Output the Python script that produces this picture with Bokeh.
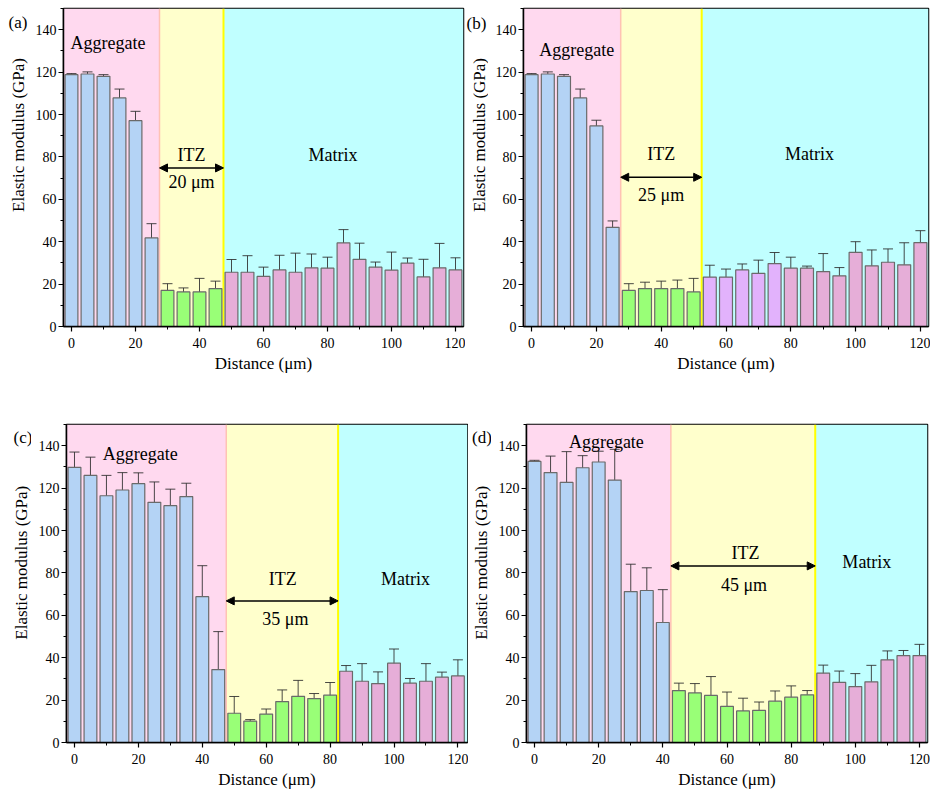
import math
from bokeh.plotting import figure
from bokeh.layouts import column, row
from bokeh.models import (Range1d, SingleIntervalTicker, BoxAnnotation, Span, Label,
                          Arrow, NormalHead, Whisker, TeeHead, ColumnDataSource)
from bokeh.core.properties import value
from bokeh.embed import file_html
from bokeh.resources import INLINE

FONT = "'Liberation Serif', 'DejaVu Serif', serif"

# ---------------- data ----------------
distance = list(range(0, 125, 5))

a_vals = [118.8, 119.1, 118.0, 107.8, 97.1, 41.8, 17.0, 16.3, 16.3, 17.9, 25.6, 25.6, 23.6,
          26.7, 25.6, 27.7, 27.5, 39.4, 31.7, 28.0, 26.6, 29.9, 23.4, 27.7, 26.7]
a_errs = [0.5, 1.0, 0.8, 4.2, 4.4, 6.7, 3.2, 1.9, 6.4, 3.5, 6.0, 7.8, 4.4,
          6.9, 9.0, 6.5, 5.2, 6.3, 7.6, 2.4, 8.5, 2.4, 8.3, 11.5, 5.7]

b_vals = [118.8, 119.1, 118.0, 107.8, 94.6, 46.8, 17.0, 17.9, 17.9, 17.9, 16.3, 23.3, 23.3,
          26.7, 25.1, 29.7, 27.5, 27.5, 25.9, 23.9, 35.0, 28.6, 30.3, 29.1, 39.6]
b_errs = [0.5, 1.0, 0.8, 4.2, 2.7, 3.0, 3.2, 3.0, 3.5, 4.0, 6.4, 5.6, 3.8,
          2.8, 6.2, 5.2, 5.2, 1.0, 8.5, 3.9, 5.0, 7.5, 6.3, 10.4, 5.6]

c_vals = [129.8, 126.0, 116.4, 119.1, 122.1, 113.3, 111.7, 116.0, 68.8, 34.4, 13.8, 10.1, 13.4,
          19.3, 21.8, 20.7, 22.3, 33.6, 28.9, 27.8, 37.4, 28.0, 28.9, 30.8, 31.4]
c_errs = [7.2, 8.6, 9.6, 8.2, 5.1, 9.6, 7.8, 6.3, 14.6, 17.9, 7.9, 0.7, 2.4,
          5.5, 7.5, 2.4, 6.0, 2.7, 8.3, 5.5, 6.7, 2.2, 8.3, 2.4, 7.6]

d_vals = [132.6, 127.3, 122.7, 129.6, 132.3, 123.8, 71.2, 71.7, 56.6, 24.5, 23.4, 22.2, 17.0,
          14.9, 15.2, 19.5, 21.4, 22.5, 32.7, 28.4, 26.4, 28.6, 39.0, 41.0, 41.0]
d_errs = [0.5, 7.8, 14.5, 5.7, 5.1, 14.5, 12.9, 10.7, 15.5, 3.5, 4.4, 8.9, 6.8,
          6.0, 3.9, 4.8, 5.3, 2.0, 3.8, 5.3, 6.1, 7.8, 4.2, 2.4, 5.3]

# zone edges (µm): aggregate/ITZ and ITZ/matrix
a_zone = [27.5, 47.5]
b_zone = [27.5, 52.5]
c_zone = [47.5, 82.5]
d_zone = [42.5, 87.5]

itz_width_labels = ["20 μm", "25 μm", "35 μm", "45 μm"]
panel_labels = ["(a)", "(b)", "(c)", "(d)"]
y_title = "Elastic modulus (GPa)"
x_title = "Distance (μm)"

# ---------------- style ----------------
C_AGG_BG = "#ffd9ef"
C_ITZ_BG = "#ffffcc"
C_MAT_BG = "#c0ffff"
C_AGG_BAR = "#b4d3f5"
C_ITZ_BAR = "#99ff77"
C_MAT_BAR = "#e6aed8"
C_LILAC = "#e2b2fc"


def bar_colors(zone, lilac_count=0):
    cols = []
    nm = 0
    for x in distance:
        if x < zone[0]:
            cols.append(C_AGG_BAR)
        elif x < zone[1]:
            cols.append(C_ITZ_BAR)
        else:
            cols.append(C_LILAC if nm < lilac_count else C_MAT_BAR)
            nm += 1
    return cols


def side_strip(width, height, tag, tag_x, tag_y, title_x, title_y):
    """Narrow strip left of a panel holding the panel tag and the y-axis title."""
    s = figure(width=width, height=height, output_backend="svg", toolbar_location=None,
               x_range=Range1d(0, width), y_range=Range1d(0, height),
               x_axis_type=None, y_axis_type=None, min_border=0,
               min_border_left=0, min_border_right=0, min_border_top=0, min_border_bottom=0,
               background_fill_color="white", border_fill_color="white")
    s.grid.visible = False
    s.outline_line_color = None
    s.text(x=[tag_x], y=[tag_y], text=[tag], text_font=value(FONT),
           text_font_size=value("17px"), text_align="left", text_baseline="middle",
           text_color="black")
    s.text(x=[title_x], y=[title_y], text=[y_title], text_font=value(FONT),
           text_font_size=value("17px"), text_align="center", text_baseline="middle",
           angle=math.pi / 2, text_color="black")
    return s


def make_panel(vals, errs, zone, wlabel, ann, width, height, borders, xend=122.5, lilac=0):
    bl, br, bt, bb = borders
    p = figure(width=width, height=height, output_backend="svg", toolbar_location=None,
               x_range=Range1d(-2.5, xend), y_range=Range1d(0, 150),
               min_border_left=bl, min_border_right=br, min_border_top=bt,
               min_border_bottom=bb, background_fill_color="white",
               border_fill_color="white")
    p.grid.visible = False
    p.outline_line_color = "black"
    p.outline_line_width = 1.5

    # zone backgrounds
    p.add_layout(BoxAnnotation(right=zone[0], fill_color=C_AGG_BG, fill_alpha=1,
                               line_alpha=0, level="underlay"))
    p.add_layout(BoxAnnotation(left=zone[0], right=zone[1], fill_color=C_ITZ_BG,
                               fill_alpha=1, line_alpha=0, level="underlay"))
    p.add_layout(BoxAnnotation(left=zone[1], fill_color=C_MAT_BG, fill_alpha=1,
                               line_alpha=0, level="underlay"))
    p.add_layout(Span(location=zone[0], dimension="height", line_color="#ffc2b4",
                      line_width=1.5, level="underlay"))
    p.add_layout(Span(location=zone[1], dimension="height", line_color="#ffff00",
                      line_width=2, level="underlay"))

    src = ColumnDataSource(dict(x=distance, top=vals,
                                upper=[v + e for v, e in zip(vals, errs)],
                                lower=[v - e for v, e in zip(vals, errs)],
                                color=bar_colors(zone, lilac)))
    p.vbar(x="x", top="top", bottom=0, width=4, fill_color="color", line_color="#6a6a6a",
           line_width=1.2, source=src)
    w = Whisker(source=src, base="x", upper="upper", lower="lower", line_color="#2a2a2a",
                line_width=1, line_alpha=0.85,
                upper_head=TeeHead(size=10, line_color="#2a2a2a", line_width=1, line_alpha=0.85),
                lower_head=TeeHead(size=10, line_color="#2a2a2a", line_width=1, line_alpha=0.85))
    p.add_layout(w)

    # annotations
    def lab(text, x, y, size="18px", align="center"):
        p.add_layout(Label(x=x, y=y, text=text, text_font=FONT, text_font_size=size,
                           text_align=align, text_baseline="middle", text_color="black"))

    lab("Aggregate", ann["agg"][0], ann["agg"][1])
    lab("ITZ", ann["itz"][0], ann["itz"][1])
    lab(wlabel, ann["w"][0], ann["w"][1])
    lab("Matrix", ann["mat"][0], ann["mat"][1])
    p.add_layout(Arrow(start=NormalHead(size=8, fill_color="black", line_color="black"),
                       end=NormalHead(size=8, fill_color="black", line_color="black"),
                       x_start=zone[0], x_end=zone[1], y_start=ann["arrow"],
                       y_end=ann["arrow"], line_color="black", line_width=1.5))

    # axes
    p.xaxis.ticker = SingleIntervalTicker(interval=20, num_minor_ticks=2)
    p.yaxis.ticker = SingleIntervalTicker(interval=20, num_minor_ticks=2)
    p.xaxis.axis_label = x_title
    for ax in (p.xaxis, p.yaxis):
        ax.axis_label_text_font = FONT
        ax.axis_label_text_font_size = "17px"
        ax.axis_label_text_font_style = "normal"
        ax.axis_label_text_color = "black"
        ax.major_label_text_font = FONT
        ax.major_label_text_font_size = "14px"
        ax.major_label_text_color = "black"
        ax.axis_line_color = "black"
        ax.axis_line_width = 1.5
        ax.major_tick_line_color = "black"
        ax.major_tick_line_width = 1.2
        ax.minor_tick_line_color = "black"
        ax.major_tick_in = 0
        ax.major_tick_out = 5
        ax.minor_tick_in = 0
        ax.minor_tick_out = 3
    p.xaxis.major_label_standoff = 6
    p.xaxis.axis_label_standoff = 3
    p.yaxis.major_label_standoff = 2
    return p


sa = side_strip(28, 420, panel_labels[0], 8, 402, 18.3, 253)
pa = make_panel(a_vals, a_errs, a_zone, itz_width_labels[0],
                dict(agg=(11.4, 133.6), itz=(37.5, 81), w=(37.5, 68), mat=(81.7, 81),
                     arrow=74.8),
                437, 420, (35, 2, 8, 94))
sb = side_strip(23, 420, panel_labels[1], 1, 400, 13.5, 253)
pb = make_panel(b_vals, b_errs, b_zone, itz_width_labels[1],
                dict(agg=(13.9, 130.4), itz=(40, 81.4), w=(40, 61.8), mat=(85.8, 81.4),
                     arrow=70.4),
                442, 420, (35, 2, 8, 94), lilac=5)
sc = side_strip(31, 375, panel_labels[2], 13, 360, 20.7, 212)
pc = make_panel(c_vals, c_errs, c_zone, itz_width_labels[2],
                dict(agg=(20.6, 136.2), itz=(65.2, 77), w=(66, 58.1), mat=(103.6, 77.3),
                     arrow=66.8),
                437, 375, (35, 1, 4, 53), xend=123)
sd = side_strip(23, 375, panel_labels[3], 3.5, 360, 12.7, 212)
pd_ = make_panel(d_vals, d_errs, d_zone, itz_width_labels[3],
                 dict(agg=(22.4, 141.7), itz=(65.8, 89.4), w=(65.3, 74.5), mat=(103.6, 85.2),
                      arrow=83.3),
                 439, 375, (35, 3, 4, 53))

layout = column(row(sa, pa, sb, pb), row(sc, pc, sd, pd_))
open("out.html", "w").write(file_html(layout, INLINE))
